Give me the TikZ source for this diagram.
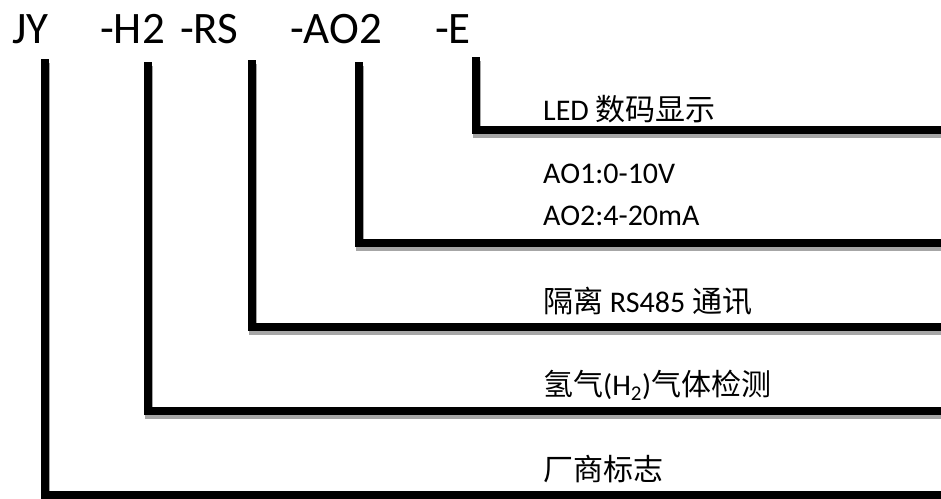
\documentclass[tikz,border=0pt]{standalone}
\usepackage{fontspec}
\setmainfont{Carlito}
\newfontfamily\cjk{Noto Sans CJK SC}

\begin{document}
\begin{tikzpicture}[x=1pt, y=-1pt]
  % Styles
  \tikzset{
    code/.style={anchor=base west, inner sep=0pt, font=\fontsize{45}{50}\selectfont},
    lbl/.style={anchor=base west, inner sep=0pt, font=\fontsize{30}{34}\selectfont},
    trait/.style={line width=8pt, black,
      preaction={draw=gray!70, line width=8pt, transform canvas={xshift=1pt, yshift=-4pt}}},
  }

  \useasboundingbox (0,0) rectangle (941,498);

  % Reference
  \node[code] (jy) at (12,43) {JY};
  \node[code] (h2) at (100,43) {-H2};
  \node[code] (rs) at (180,43) {-RS};
  \node[code] (ao) at (290,43) {-AO2};
  \node[code] (e)  at (435,43) {-E};

  % Descriptions
  \node[lbl] (le)  at (543,120) {LED {\cjk 数码显示}};
  \node[lbl] (lao) at (543,183) {AO1:0-10V};
  \node[lbl] (lao2) at (543,225) {AO2:4-20mA};
  \node[lbl] (lrs) at (543,312) {{\cjk 隔离} RS485 {\cjk 通讯}};
  \node[lbl] (lh2) at (543,395) {{\cjk 氢气}(H\textsubscript{2}){\cjk 气体检测}};
  \node[lbl] (ljy) at (543,480) {\cjk 厂商标志};

  % Points
  \foreach \n/\x/\ya/\yb in {
    jy/45/59/495,
    h2/148/62/411,
    rs/252/60/327,
    ao/359/62/243,
    e/476/57/130
  }{
    \coordinate (\n-top) at (\x,\ya);
    \coordinate (\n-end) at (950,\yb);
  }

  % Traits
  \foreach \n in {jy,h2,rs,ao,e}
    \draw[trait] (\n-top) |- (\n-end);

\end{tikzpicture}
\end{document}
